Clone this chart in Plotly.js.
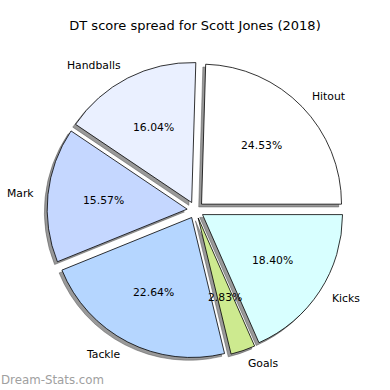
<!DOCTYPE html>
<html>
<head>
<meta charset="utf-8">
<script src="https://cdn.plot.ly/plotly-3.0.1.min.js"></script>
<style>html,body{margin:0;padding:0;background:#fff;}#chart{width:390px;height:390px;}</style>
</head>
<body>
<div id="chart"></div>
<script>
// Data (counter-clockwise from 3 o'clock)
var categories = ["Hitout", "Handballs", "Mark", "Tackle", "Goals", "Kicks"];
var scores = [52, 34, 33, 48, 6, 39];
var colors = ["#ffffff", "#eaf0ff", "#c5d7ff", "#b5d6ff", "#cdea8f", "#d8ffff"];
var titleText = "DT score spread for Scott Jones (2018)";
var watermark = "Dream-Stats.com";

var W = 390, H = 390;
var pull = 0.06;
var dom = {x: [0.1208, 0.8818], y: [0.081, 0.842]};
var shadowPx = 2.8;
var shDom = {
  x: [dom.x[0] - shadowPx / W, dom.x[1] - shadowPx / W],
  y: [dom.y[0] - shadowPx / H, dom.y[1] - shadowPx / H]
};
var pulls = categories.map(function () { return pull; });
var font = "DejaVu Sans, sans-serif";

var total = scores.reduce(function (a, b) { return a + b; }, 0);
// first slice starts at 3 o'clock going counter-clockwise
var rot = 90 - scores[0] / total * 360;

var shadow = {
  type: "pie", values: scores, labels: categories, sort: false,
  direction: "counterclockwise", rotation: rot, pull: pulls,
  domain: shDom, textinfo: "none", hoverinfo: "skip", showlegend: false,
  marker: {colors: scores.map(function () { return "rgba(70,70,70,0.55)"; }),
           line: {color: "rgba(70,70,70,0.55)", width: 0.8}}
};
var pie = {
  type: "pie", values: scores, labels: categories, sort: false,
  direction: "counterclockwise", rotation: rot, pull: pulls,
  domain: dom, textinfo: "none", hoverinfo: "label+percent", showlegend: false,
  marker: {colors: colors, line: {color: "#000000", width: 0.8}}
};

// Text positions derived from the data (matplotlib-like label/pct distances)
var boxW = W * (dom.x[1] - dom.x[0]), boxH = H * (dom.y[1] - dom.y[0]);
var r = Math.min(boxW, boxH) / 2 / (1 + pull);
var cx = W * (dom.x[0] + dom.x[1]) / 2;
var cy = H * (1 - (dom.y[0] + dom.y[1]) / 2);
var annotations = [];
var cum = 0;
scores.forEach(function (v, i) {
  var mid = (cum + v / 2) / total * 2 * Math.PI;
  cum += v;
  var c = Math.cos(mid), s = Math.sin(mid);
  var ox = cx + pull * r * c, oy = cy - pull * r * s;
  var lx = ox + 1.1 * r * c, ly = oy - 1.1 * r * s;
  var px = ox + 0.6 * r * c, py = oy - 0.6 * r * s;
  annotations.push({
    xref: "paper", yref: "paper", x: lx / W, y: 1 - ly / H,
    xanchor: c > 0 ? "left" : "right", yanchor: "middle",
    text: categories[i], showarrow: false, borderpad: 0, borderwidth: 0,
    font: {family: font, size: 10.8, color: "#000"}
  });
  annotations.push({
    xref: "paper", yref: "paper", x: px / W, y: 1 - py / H,
    xanchor: "center", yanchor: "middle",
    text: (v / total * 100).toFixed(2) + "%", showarrow: false,
    font: {family: font, size: 10.8, color: "#000"}
  });
});
annotations.push({
  xref: "paper", yref: "paper", x: -0.003, y: 1 - 380 / H,
  xanchor: "left", yanchor: "middle", text: watermark, showarrow: false,
  font: {family: font, size: 11.8, color: "#a0a0a0"}
});

var layout = {
  width: W, height: H,
  margin: {l: 0, r: 0, t: 0, b: 0},
  paper_bgcolor: "#ffffff",
  title: {text: titleText, x: 0.5, xanchor: "center", y: 1 - 25.5 / H, yanchor: "middle",
          yref: "container", font: {family: font, size: 13, color: "#000"}},
  annotations: annotations
};
Plotly.newPlot("chart", [shadow, pie], layout, {displayModeBar: false, staticPlot: true});
</script>
</body>
</html>
